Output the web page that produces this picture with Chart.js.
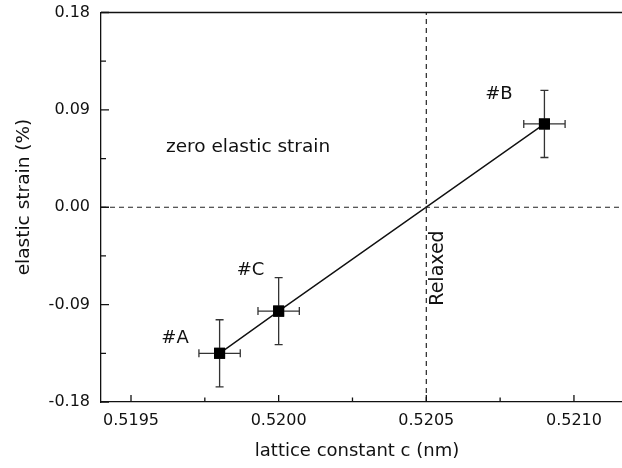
<!DOCTYPE html>
<html>
<head>
<meta charset="utf-8">
<script src="https://cdn.jsdelivr.net/npm/chart.js@4"></script>
<style>
html,body{margin:0;padding:0;background:#fff;}
canvas{display:block;}
</style>
</head>
<body>
<canvas id="c" width="622" height="468"></canvas>
<script>
// ---- data ----
const sampleNames = ['#A', '#C', '#B'];
const latticeC    = [0.51980, 0.52000, 0.52090];   // nm
const strain      = [-0.135, -0.096, 0.077];       // %
const errC        = [0.00007, 0.00007, 0.00007];   // nm
const errStrain   = [0.031, 0.031, 0.031];         // %
const relaxedC    = 0.5205;
const xTickValues = [0.5195, 0.5200, 0.5205, 0.5210];
const xMinorTicks = [0.51975, 0.52025, 0.52075];
const yTickValues = [-0.18, -0.09, 0.00, 0.09, 0.18];
const yMinorTicks = [-0.135, -0.045, 0.045, 0.135];
const xRange = [0.5193984, 0.5211627];
const yRange = [-0.18, 0.18];
const xTitle = 'lattice constant c (nm)';
const yTitle = 'elastic strain (%)';

const FONT = "'DejaVu Sans', sans-serif";
const INK = '#111';

const points = latticeC.map((x, i) => ({x: x, y: strain[i]}));

// annotation texts (pixel placement)
const annotations = [
  {text: '#A', x: 175, y: 338, rot: 0, align: 'center', size: 18},
  {text: '#C', x: 250.5, y: 270, rot: 0, align: 'center', size: 18},
  {text: '#B', x: 499, y: 94, rot: 0, align: 'center', size: 18},
  {text: 'zero elastic strain', x: 166, y: 147, rot: 0, align: 'left', size: 18.5},
  {text: 'Relaxed', x: 438, y: 268, rot: -Math.PI/2, align: 'center', size: 19},
  {text: xTitle, x: 357, y: 451, rot: 0, align: 'center', size: 18},
  {text: yTitle, x: 24, y: 197, rot: -Math.PI/2, align: 'center', size: 18.5}
];

const extrasPlugin = {
  id: 'extras',
  afterDatasetsDraw(chart) {
    const {ctx, chartArea, scales} = chart;
    const xs = scales.x, ys = scales.y;
    ctx.save();
    // top border
    ctx.strokeStyle = INK;
    ctx.lineWidth = 1.3;
    ctx.beginPath();
    ctx.moveTo(chartArea.left, chartArea.top);
    ctx.lineTo(chartArea.right, chartArea.top);
    ctx.stroke();
    // inward ticks
    ctx.beginPath();
    xTickValues.forEach(v => { const p = xs.getPixelForValue(v); ctx.moveTo(p, chartArea.bottom); ctx.lineTo(p, chartArea.bottom - 7); });
    xMinorTicks.forEach(v => { const p = xs.getPixelForValue(v); ctx.moveTo(p, chartArea.bottom); ctx.lineTo(p, chartArea.bottom - 4.5); });
    yTickValues.forEach(v => { const p = ys.getPixelForValue(v); ctx.moveTo(chartArea.left, p); ctx.lineTo(chartArea.left + 8, p); });
    yMinorTicks.forEach(v => { const p = ys.getPixelForValue(v); ctx.moveTo(chartArea.left, p); ctx.lineTo(chartArea.left + 5, p); });
    ctx.stroke();
    // error bars
    ctx.strokeStyle = '#333';
    ctx.lineWidth = 1.3;
    ctx.beginPath();
    latticeC.forEach((xv, i) => {
      const px = xs.getPixelForValue(xv), py = ys.getPixelForValue(strain[i]);
      const x1 = xs.getPixelForValue(xv - errC[i]), x2 = xs.getPixelForValue(xv + errC[i]);
      const y1 = ys.getPixelForValue(strain[i] + errStrain[i]), y2 = ys.getPixelForValue(strain[i] - errStrain[i]);
      ctx.moveTo(px, y1); ctx.lineTo(px, y2);
      ctx.moveTo(px - 4, y1); ctx.lineTo(px + 4, y1);
      ctx.moveTo(px - 4, y2); ctx.lineTo(px + 4, y2);
      ctx.moveTo(x1, py); ctx.lineTo(x2, py);
      ctx.moveTo(x1, py - 4); ctx.lineTo(x1, py + 4);
      ctx.moveTo(x2, py - 4); ctx.lineTo(x2, py + 4);
    });
    ctx.stroke();
    // redraw markers on top of the bars
    ctx.fillStyle = '#000';
    latticeC.forEach((xv, i) => {
      const px = xs.getPixelForValue(xv), py = ys.getPixelForValue(strain[i]);
      ctx.fillRect(px - 5.5, py - 5.5, 11, 11);
    });
    // annotations and axis titles
    ctx.fillStyle = INK;
    annotations.forEach(a => {
      ctx.save();
      ctx.translate(a.x, a.y);
      ctx.rotate(a.rot);
      ctx.font = a.size + 'px ' + FONT;
      ctx.textAlign = a.align;
      ctx.textBaseline = 'middle';
      ctx.fillText(a.text, 0, 0);
      ctx.restore();
    });
    ctx.restore();
  }
};

new Chart(document.getElementById('c'), {
  type: 'scatter',
  data: {
    datasets: [
      {
        label: 'zero line',
        type: 'line',
        data: [{x: xRange[0], y: 0}, {x: xRange[1], y: 0}],
        borderColor: '#222', borderWidth: 1.2, borderDash: [5, 4],
        pointRadius: 0, fill: false
      },
      {
        label: 'relaxed',
        type: 'line',
        data: [{x: relaxedC, y: yRange[0]}, {x: relaxedC, y: yRange[1]}],
        borderColor: '#222', borderWidth: 1.2, borderDash: [5, 4],
        pointRadius: 0, fill: false
      },
      {
        label: 'samples',
        type: 'line',
        data: points,
        borderColor: '#111', borderWidth: 1.4,
        pointStyle: 'rect', pointRadius: 7.8, pointBackgroundColor: '#000', pointBorderWidth: 0,
        fill: false, tension: 0
      }
    ]
  },
  options: {
    responsive: false,
    animation: false,
    layout: {autoPadding: false, padding: {left: 0, right: 0, top: 12.5, bottom: 0}},
    plugins: {legend: {display: false}, tooltip: {enabled: false}},
    scales: {
      x: {
        type: 'linear',
        min: xRange[0], max: xRange[1],
        afterBuildTicks: s => { s.ticks = xTickValues.map(v => ({value: v})); },
        afterFit: s => { s.height = 66; s.paddingLeft = 0; s.paddingRight = 0; },
        grid: {display: true, drawOnChartArea: false, drawTicks: false, tickLength: 0},
        border: {display: true, color: INK, width: 1.3},
        ticks: {
          padding: 9, color: INK, maxRotation: 0, autoSkip: false,
          font: {family: FONT, size: 16},
          callback: v => v.toFixed(4)
        },
        title: {display: false, text: xTitle}
      },
      y: {
        type: 'linear',
        min: yRange[0], max: yRange[1],
        afterBuildTicks: s => { s.ticks = yTickValues.map(v => ({value: v})); },
        afterFit: s => { s.width = 101; s.paddingTop = 0; s.paddingBottom = 0; },
        grid: {display: true, drawOnChartArea: false, drawTicks: false, tickLength: 0},
        border: {display: true, color: INK, width: 1.3},
        ticks: {
          padding: 11, color: INK, autoSkip: false,
          font: {family: FONT, size: 16},
          callback: v => v.toFixed(2)
        },
        title: {display: false, text: yTitle}
      }
    }
  },
  plugins: [extrasPlugin]
});
</script>
</body>
</html>
